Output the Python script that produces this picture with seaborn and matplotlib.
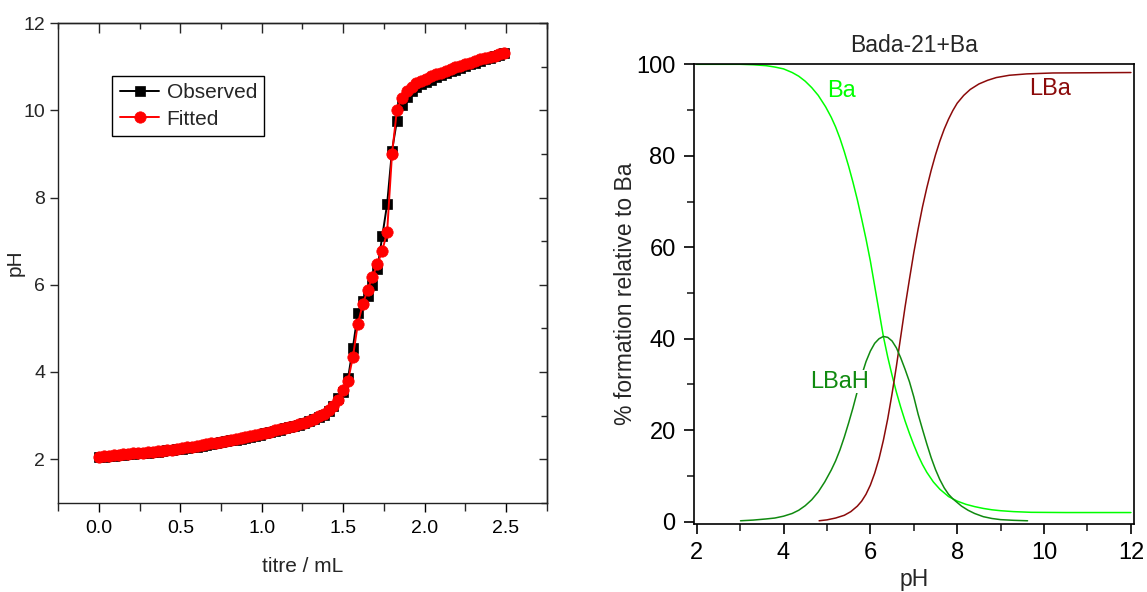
import matplotlib
matplotlib.use("Agg")
import matplotlib.pyplot as plt
import seaborn as sns
import pandas as pd
from matplotlib.ticker import MultipleLocator, NullLocator
from matplotlib import font_manager as fm

# ---------------- data: left panel (titration) ----------------
titre = [0.00, 0.03, 0.06, 0.09, 0.12, 0.15, 0.18, 0.21, 0.24, 0.27,
         0.30, 0.33, 0.36, 0.39, 0.42, 0.45, 0.48, 0.51, 0.54, 0.57,
         0.60, 0.63, 0.66, 0.69, 0.72, 0.75, 0.78, 0.81, 0.84, 0.87,
         0.90, 0.93, 0.96, 0.99, 1.02, 1.05, 1.08, 1.11, 1.14, 1.17,
         1.20, 1.23, 1.26, 1.29, 1.32, 1.35, 1.38, 1.41, 1.44, 1.47,
         1.50, 1.53, 1.56, 1.59, 1.62, 1.65, 1.68, 1.71, 1.74, 1.77,
         1.80, 1.83, 1.86, 1.89, 1.92, 1.95, 1.98, 2.01, 2.04, 2.07,
         2.10, 2.13, 2.16, 2.19, 2.22, 2.25, 2.28, 2.31, 2.34, 2.37,
         2.40, 2.43, 2.46, 2.49]
ph_observed = [2.05, 2.06, 2.07, 2.08, 2.09, 2.10, 2.11, 2.12, 2.13, 2.14,
               2.15, 2.16, 2.17, 2.18, 2.20, 2.21, 2.23, 2.24, 2.26, 2.27,
               2.29, 2.31, 2.33, 2.35, 2.37, 2.39, 2.41, 2.43, 2.45, 2.47,
               2.49, 2.51, 2.54, 2.56, 2.59, 2.62, 2.65, 2.68, 2.71, 2.73,
               2.76, 2.79, 2.83, 2.87, 2.91, 2.96, 3.02, 3.10, 3.21, 3.40,
               3.55, 3.86, 4.56, 5.36, 5.62, 5.75, 6.00, 6.36, 7.11, 7.85,
               9.08, 9.76, 10.12, 10.32, 10.44, 10.53, 10.60, 10.66, 10.71, 10.76,
               10.81, 10.85, 10.90, 10.94, 10.98, 11.02, 11.06, 11.10, 11.13, 11.17,
               11.20, 11.24, 11.27, 11.31]
ph_fitted = [2.06, 2.07, 2.08, 2.09, 2.10, 2.11, 2.12, 2.13, 2.14, 2.15,
             2.16, 2.17, 2.18, 2.19, 2.21, 2.22, 2.24, 2.25, 2.27, 2.28,
             2.30, 2.32, 2.34, 2.36, 2.38, 2.40, 2.42, 2.44, 2.46, 2.48,
             2.50, 2.52, 2.55, 2.57, 2.60, 2.63, 2.66, 2.69, 2.72, 2.74,
             2.77, 2.80, 2.84, 2.88, 2.93, 2.98, 3.04, 3.12, 3.22, 3.35,
             3.58, 3.80, 4.35, 5.10, 5.55, 5.88, 6.18, 6.47, 6.78, 7.21,
             9.00, 10.01, 10.28, 10.45, 10.55, 10.62, 10.68, 10.73, 10.78, 10.83,
             10.87, 10.91, 10.95, 10.99, 11.03, 11.07, 11.10, 11.14, 11.17, 11.20,
             11.23, 11.26, 11.29, 11.32]
left_xticks = [0.0, 0.5, 1.0, 1.5, 2.0, 2.5]
left_yticks = [2, 4, 6, 8, 10, 12]

# ---------------- data: right panel (speciation) ----------------
ba_ph = [2.0, 3.0, 3.3, 3.6, 3.8, 4.0, 4.2, 4.35, 4.5, 4.65, 4.8, 4.97, 5.1, 5.2,
         5.3, 5.4, 5.5, 5.6, 5.7, 5.8, 5.9, 6.0, 6.1, 6.2, 6.3, 6.4, 6.5, 6.6,
         6.7, 6.8, 6.9, 7.0, 7.1, 7.2, 7.3, 7.45, 7.6, 7.8, 8.0, 8.2, 8.4, 8.6,
         8.8, 9.0, 9.3, 9.7, 10.5, 12.0]
ba_pct = [100.0, 100.0, 99.9, 99.7, 99.4, 99.0, 98.2, 97.4, 96.3, 94.9, 93.2, 90.7, 88.4, 86.3,
          83.8, 80.9, 77.7, 74.2, 70.4, 66.2, 61.8, 57.0, 51.5, 46.0, 40.5, 36.0, 32.0, 28.3,
          25.0, 22.0, 19.3, 16.8, 14.5, 12.5, 10.8, 8.7, 7.1, 5.5, 4.5, 3.8, 3.3, 2.9,
          2.6, 2.4, 2.2, 2.05, 2.0, 2.0]
lba_ph = [4.82, 5.0, 5.2, 5.4, 5.55, 5.7, 5.8, 5.9, 6.0, 6.1, 6.2, 6.3, 6.4, 6.5,
          6.6, 6.7, 6.8, 6.9, 7.0, 7.1, 7.2, 7.3, 7.4, 7.5, 7.6, 7.7, 7.8, 7.9,
          8.0, 8.15, 8.3, 8.5, 8.7, 8.9, 9.2, 9.6, 10.2, 12.0]
lba_pct = [0.2, 0.4, 0.8, 1.4, 2.2, 3.4, 4.5, 6.0, 8.0, 10.6, 13.8, 17.8, 22.5, 28.0,
           34.0, 40.5, 47.0, 53.0, 58.8, 64.0, 68.8, 73.0, 76.8, 80.2, 83.2, 85.8, 88.0, 89.9,
           91.5, 93.2, 94.5, 95.7, 96.5, 97.1, 97.6, 97.9, 98.1, 98.2]
lbah_ph = [3.01, 3.3, 3.6, 3.8, 4.0, 4.2, 4.35, 4.5, 4.65, 4.8, 4.95, 5.1, 5.2, 5.3,
           5.4, 5.5, 5.6, 5.7, 5.8, 5.9, 6.0, 6.1, 6.2, 6.3, 6.4, 6.5, 6.6, 6.7,
           6.8, 6.9, 7.0, 7.1, 7.2, 7.3, 7.4, 7.5, 7.6, 7.7, 7.8, 7.9, 8.0, 8.1,
           8.25, 8.4, 8.6, 8.8, 9.0, 9.3, 9.62]
lbah_pct = [0.2, 0.35, 0.6, 0.8, 1.2, 1.8, 2.5, 3.5, 4.8, 6.5, 8.7, 11.3, 13.3, 15.7,
            18.5, 21.6, 24.9, 28.5, 32.0, 35.0, 37.3, 39.0, 40.0, 40.5, 40.3, 39.5, 38.0, 35.8,
            33.3, 30.6, 27.3, 23.5, 20.2, 17.0, 14.0, 11.4, 9.2, 7.4, 6.0, 5.0, 4.2, 3.4,
            2.5, 1.8, 1.1, 0.7, 0.45, 0.3, 0.2]
right_xticks = [2, 4, 6, 8, 10, 12]
right_yticks = [0, 20, 40, 60, 80, 100]

# ---------------- styling ----------------
sns.set_theme(style="ticks")
names = {f.name for f in fm.fontManager.ttflist}
arial = "Liberation Sans" if "Liberation Sans" in names else "DejaVu Sans"
narrow = "Liberation Sans Narrow" if "Liberation Sans Narrow" in names else arial
plt.rcParams["font.family"] = [arial, "DejaVu Sans"]
plt.rcParams["axes.linewidth"] = 1.0

BA_GREEN = "#00ff00"
LBA_RED = "#8b0a0a"
LBAH_GREEN = "#108a10"

fig = plt.figure(figsize=(11.47, 5.92), dpi=100)

# ================= left panel =================
ax1 = fig.add_axes([0.0508, 0.1508, 0.4258, 0.8098])
df_obs = pd.DataFrame({"titre": titre, "pH": ph_observed})
df_fit = pd.DataFrame({"titre": titre, "pH": ph_fitted})
sns.lineplot(data=df_obs, x="titre", y="pH", ax=ax1, color="black", marker="s",
             markersize=7, markeredgecolor="black", markeredgewidth=0.5,
             linewidth=1.4, estimator=None, sort=False, label="Observed")
sns.lineplot(data=df_fit, x="titre", y="pH", ax=ax1, color="red", marker="o",
             markersize=8.2, markeredgecolor="red", markeredgewidth=0.5,
             linewidth=1.4, estimator=None, sort=False, label="Fitted")
ax1.set_xlim(-0.25, 2.75)
ax1.set_ylim(1, 12)
ax1.set_xticks(left_xticks)
ax1.set_xticklabels([f"{v:.1f}" for v in left_xticks])
ax1.set_yticks(left_yticks)
ax1.xaxis.set_minor_locator(MultipleLocator(0.25))
ax1.yaxis.set_minor_locator(NullLocator())
ax1.tick_params(axis="x", which="major", direction="out", length=6.5, width=1.0,
                pad=6, labelsize=14, colors="black")
ax1.tick_params(axis="x", which="minor", direction="out", length=6.0, width=1.0)
ax1.tick_params(axis="y", which="major", direction="out", length=5.5, width=1.0,
                pad=4, labelsize=14)
for lab in ax1.get_xticklabels() + ax1.get_yticklabels():
    lab.set_fontfamily([narrow, "DejaVu Sans"])
for s in ax1.spines.values():
    s.set_color("#222222")
    s.set_linewidth(1.0)

# mirrored inward ticks on top / right
top = ax1.secondary_xaxis("top")
top.set_xticks(left_xticks)
top.xaxis.set_minor_locator(MultipleLocator(0.25))
top.tick_params(which="major", direction="in", length=7, width=1.0, labeltop=False)
top.tick_params(which="minor", direction="in", length=4, width=1.0)
right = ax1.secondary_yaxis("right")
right.set_yticks(left_yticks)
right.yaxis.set_minor_locator(MultipleLocator(1))
right.tick_params(which="major", direction="in", length=6, width=1.0, labelright=False)
right.tick_params(which="minor", direction="in", length=4, width=1.0)

ax1.set_xlabel("titre / mL", fontsize=15, fontfamily=[narrow, "DejaVu Sans"], labelpad=14)
ax1.set_ylabel("pH", fontsize=15, fontfamily=[narrow, "DejaVu Sans"])
ax1.yaxis.set_label_coords(-0.068, 0.5)

leg = ax1.legend(loc="upper left", bbox_to_anchor=(0.111, 0.890), borderaxespad=0,
                 frameon=True, fancybox=False, edgecolor="black", framealpha=1,
                 prop={"family": [narrow, "DejaVu Sans"], "size": 15},
                 handlelength=1.9, handletextpad=0.35, labelspacing=0.35,
                 borderpad=0.35)
leg.get_frame().set_linewidth(1.0)

# ================= right panel =================
ax2 = fig.add_axes([0.6051, 0.1149, 0.3839, 0.7765])
df_ba = pd.DataFrame({"pH": ba_ph, "pct": ba_pct})
df_lba = pd.DataFrame({"pH": lba_ph, "pct": lba_pct})
df_lbah = pd.DataFrame({"pH": lbah_ph, "pct": lbah_pct})
sns.lineplot(data=df_ba, x="pH", y="pct", ax=ax2, color=BA_GREEN, linewidth=1.1,
             estimator=None, sort=False)
sns.lineplot(data=df_lba, x="pH", y="pct", ax=ax2, color=LBA_RED, linewidth=1.1,
             estimator=None, sort=False)
sns.lineplot(data=df_lbah, x="pH", y="pct", ax=ax2, color=LBAH_GREEN, linewidth=1.1,
             estimator=None, sort=False)
ax2.set_xlim(1.94, 12.08)
ax2.set_ylim(-0.5, 100)
ax2.set_xticks(right_xticks)
ax2.set_yticks(right_yticks)
ax2.xaxis.set_minor_locator(MultipleLocator(1))
ax2.yaxis.set_minor_locator(MultipleLocator(10))
ax2.tick_params(which="major", direction="out", length=7.2, width=1.2,
                labelsize=17, pad=6, colors="black")
ax2.tick_params(which="minor", direction="out", length=4.8, width=1.2)
for s in ax2.spines.values():
    s.set_color("black")
    s.set_linewidth(1.2)

ax2.text(5.33, 94.1, "Ba", color=BA_GREEN, fontsize=17, ha="center", va="center")
ax2.text(10.14, 94.7, "LBa", color=LBA_RED, fontsize=17, ha="center", va="center")
ax2.text(5.29, 30.6, "LBaH", color=LBAH_GREEN, fontsize=17, ha="center", va="center",
         bbox=dict(facecolor="white", edgecolor="none", pad=0.5))

ax2.set_title("Bada-21+Ba", fontsize=16.5, pad=9)
ax2.set_xlabel("pH", fontsize=16.5, labelpad=3)
ax2.set_ylabel("% formation relative to Ba", fontsize=16.5)
ax2.yaxis.set_label_coords(-0.13, 0.5)

fig.savefig("out.png", dpi=100)
